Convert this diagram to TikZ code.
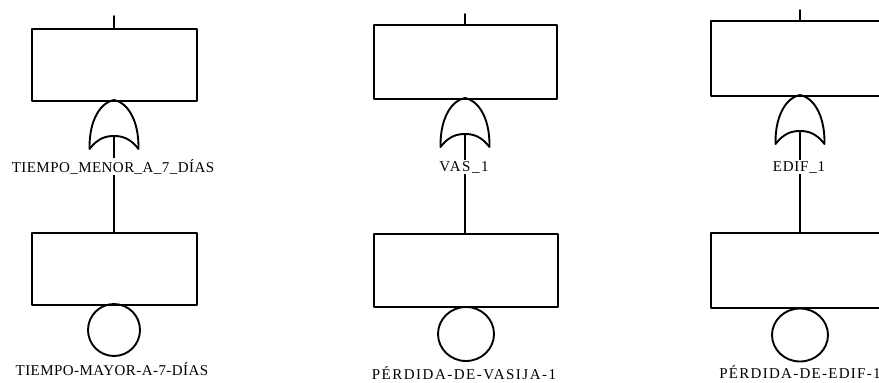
\documentclass[tikz,border=0pt]{standalone}
\usepackage{fontspec}
\usetikzlibrary{shapes.geometric}
\setmainfont{Liberation Serif}
\begin{document}
\begin{tikzpicture}[x=1pt,y=-1pt,
  ln/.style={line width=1.9pt,line cap=round,line join=round},
  evbox/.style={ln,draw,rectangle,inner sep=0pt,anchor=north west},
  basic/.style={ln,draw,ellipse,inner sep=0pt},
  lbl/.style={fill=white,inner sep=1.5pt,anchor=base,text=black,
    font=\fontsize{15}{18}\selectfont\addfontfeatures{LetterSpace=3}},
  wide/.style={font=\fontsize{15}{18}\selectfont\addfontfeatures{LetterSpace=#1}},
  orgate/.pic={\draw[ln] (-24.5,49) .. controls (-25,18) and (-12,2) .. (0,0)
      .. controls (12,2) and (25,18) .. (24.5,49)
      .. controls (16,38) and (8,36) .. (0,36)
      .. controls (-8,36) and (-16,38) .. cycle;}]
\useasboundingbox (0,0) rectangle (879,383);
% column 1
\node[evbox,minimum width=165pt,minimum height=72pt] (b1) at (31,28) {};
\coordinate (t1) at (114,16);
\pic at (114,100) {orgate};
\coordinate (g1) at (114,136);
\node[evbox,minimum width=165pt,minimum height=72pt] (c1) at (31,232) {};
\node[basic,minimum width=52pt,minimum height=52pt] (e1) at (114,330) {};
\draw[ln] (t1) -- (t1 |- b1.north);
\draw[ln] (g1) -- (g1 |- c1.north);
\node[lbl] (l1) at (113,172) {TIEMPO\_MENOR\_A\_7\_DÍAS};
\node[lbl] (m1) at (112,375) {TIEMPO-MAYOR-A-7-DÍAS};
% column 2
\node[evbox,minimum width=183pt,minimum height=74pt] (b2) at (373,24) {};
\coordinate (t2) at (465,14);
\begin{scope}[shift={(465,98)},xscale=1.08]\pic {orgate};\end{scope}
\coordinate (g2) at (465,134);
\node[evbox,minimum width=184pt,minimum height=73pt] (c2) at (373,233) {};
\node[basic,minimum width=56pt,minimum height=54pt] (e2) at (466,334) {};
\draw[ln] (t2) -- (t2 |- b2.north);
\draw[ln] (g2) -- (g2 |- c2.north);
\node[lbl,wide=10] (l2) at (464,171) {VAS\_1};
\node[lbl,wide=10] (m2) at (464,379) {PÉRDIDA-DE-VASIJA-1};
% column 3
\node[evbox,minimum width=184pt,minimum height=75pt] (b3) at (710,20) {};
\coordinate (t3) at (800,10);
\begin{scope}[shift={(800,95)},xscale=1.04]\pic {orgate};\end{scope}
\coordinate (g3) at (800,131);
\node[evbox,minimum width=184pt,minimum height=75pt] (c3) at (710,232) {};
\node[basic,minimum width=56pt,minimum height=53pt] (e3) at (800,335) {};
\draw[ln] (t3) -- (t3 |- b3.north);
\draw[ln] (g3) -- (g3 |- c3.north);
\node[lbl,wide=5] (l3) at (799,171) {EDIF\_1};
\node[lbl,wide=8.5] (m3) at (800,378) {PÉRDIDA-DE-EDIF-1};
\end{tikzpicture}
\end{document}
